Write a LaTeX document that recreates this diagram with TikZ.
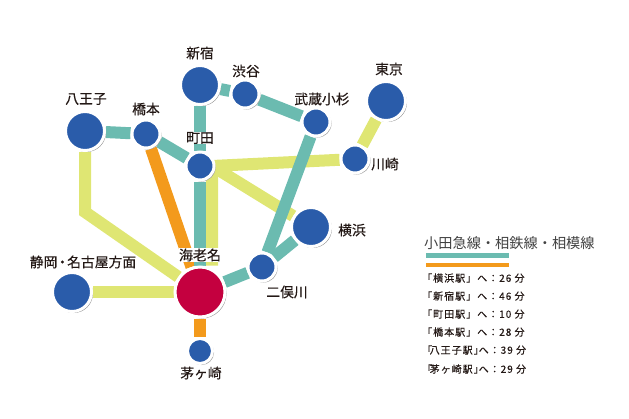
\documentclass[tikz,border=0pt]{standalone}
\usepackage{fontspec}
\setmainfont{Noto Sans CJK JP}
\newfontfamily\placefont[FakeBold=0.35]{Noto Sans CJK JP}
\newfontfamily\rowfont[FakeBold=0.35,LetterSpace=10]{Noto Sans CJK JP}
\usetikzlibrary{positioning,shadows,backgrounds}
\definecolor{tealline}{HTML}{6BBBB0}
\definecolor{yellowline}{HTML}{DFE673}
\definecolor{orangeline}{HTML}{F39A1C}
\definecolor{stationblue}{HTML}{2A5CAA}
\definecolor{ebinared}{HTML}{C4003F}
\definecolor{labeltext}{HTML}{231815}

\begin{document}
\begin{tikzpicture}[%
    x=1pt, y=-1pt,
    on grid,
    station/.style={circle, inner sep=0pt, fill=stationblue, draw=white, line width=3pt,
      drop shadow={shadow xshift=1.5pt, shadow yshift=-1.5pt, fill=black!40, opacity=1}},
    bigstation/.style={station, minimum size=39pt},
    midstation/.style={station, minimum size=28pt},
    tinystation/.style={station, minimum size=25pt},
    mainstation/.style={station, fill=ebinared, minimum size=50pt},
    place/.style={inner sep=0.5pt, text=labeltext, font=\placefont\fontsize{13.8}{14}\selectfont},
    teal/.style={draw=tealline, line width=12pt},
    yellow/.style={draw=yellowline, line width=12pt, line join=miter},
    orange/.style={draw=orangeline, line width=12pt},
    legrow/.style={anchor=west, inner sep=0pt, text=labeltext,
      font=\rowfont\fontsize{10}{10}\selectfont}
  ]
    \useasboundingbox (0,0) rectangle (629,418);

    \node[bigstation] (shinjuku) at (200,85) {};
    \node[midstation] (shibuya) at (245,94) {};
    \node[midstation] (kosugi) at (316,122) {};
    \node[bigstation] (tokyo) at (386,101) {};
    \node[midstation] (kawasaki) at (355,159) {};
    \node[midstation] (machida) at (200,166) {};
    \node[midstation] (hashimoto) at (146,134) {};
    \node[bigstation] (hachioji) at (85,131) {};
    \node[bigstation] (yokohama) at (311,227) {};
    \node[midstation] (futamata) at (262,267) {};
    \node[mainstation] (ebina) at (200,292) {};
    \node[bigstation] (shizuoka) at (72,292) {};
    \node[tinystation] (chigasaki) at (200,351) {};

    \coordinate (cornerM) at (212,166);
    \coordinate (cornerH) at (85,212);
    \coordinate (legTealL) at (426,255.5);
    \coordinate[right=83pt of legTealL] (legTealR);
    \coordinate (legOrangeL) at (426,265);
    \coordinate[right=83pt of legOrangeL] (legOrangeR);

    \begin{scope}[on background layer]
      \draw[yellow] (ebina.north -| cornerM) -- (cornerM) -- (kawasaki);
      \draw[yellow] (cornerM) -- (yokohama);
      \draw[yellow] (tokyo) -- (kawasaki);
      \draw[yellow] (hachioji) -- (cornerH) -- (ebina);
      \draw[yellow] (shizuoka) -- (ebina);
      \draw[orange] (hashimoto) -- (ebina);
      \draw[orange] (ebina) -- (chigasaki);
      \draw[teal] (shinjuku) -- (machida) -- (ebina);
      \draw[teal] (hachioji) -- (hashimoto) -- (machida);
      \draw[teal] (shinjuku) -- (shibuya) -- (kosugi) -- (futamata) -- (ebina);
      \draw[teal] (futamata) -- (yokohama);
    \end{scope}

    \node[place, above=32pt of shinjuku] (shinjukuL) {新宿};
    \node[place, above right=23pt and 1pt of shibuya] (shibuyaL) {渋谷};
    \node[place, above right=23pt and 6pt of kosugi] (kosugiL) {武蔵小杉};
    \node[place, above right=32pt and 3pt of tokyo] (tokyoL) {東京};
    \node[place, below right=5pt and 30pt of kawasaki] (kawasakiL) {川崎};
    \node[place, above=28pt of machida, fill=white] (machidaL) {町田};
    \node[place, above=25pt of hashimoto] (hashimotoL) {橋本};
    \node[place, above right=32pt and 1pt of hachioji] (hachiojiL) {八王子};
    \node[place, below right=3pt and 41pt of yokohama] (yokohamaL) {横浜};
    \node[place, below right=25pt and 25pt of futamata] (futamataL) {二俣川};
    \node[place, above=37pt of ebina, fill=white, font=\placefont\fontsize{14}{14}\selectfont] (ebinaL) {海老名};
    \node[place, above right=30pt and 11pt of shizuoka] (shizuokaL) {静岡\kern-2pt・\kern-2pt 名古屋方面};
    \node[place, below right=22pt and 1pt of chigasaki] (chigasakiL) {茅ヶ崎};

    \node[anchor=west, inner sep=0pt, text=black!75, font=\fontsize{14.2}{15}\selectfont] (legTitle) at (424,243) {小田急線・相鉄線・相模線};
    \draw[tealline, line width=4.5pt] (legTealL) -- (legTealR);
    \draw[orangeline, line width=4.5pt] (legOrangeL) -- (legOrangeR);

    \foreach \rowy/\rowtext in {278/「横浜駅」へ：26 分, 296/「新宿駅」へ：46 分, 314/「町田駅」へ：10 分,
        332/「橋本駅」へ：28 分, 350/「\kern-2.5pt 八王子駅」\kern-5pt へ：39 分, 369/「\kern-2.5pt 茅ヶ崎駅」\kern-5pt へ：29 分}
      \node[legrow] (row\rowy) at (422,\rowy) {\rowtext};
  \end{tikzpicture}
\end{document}
